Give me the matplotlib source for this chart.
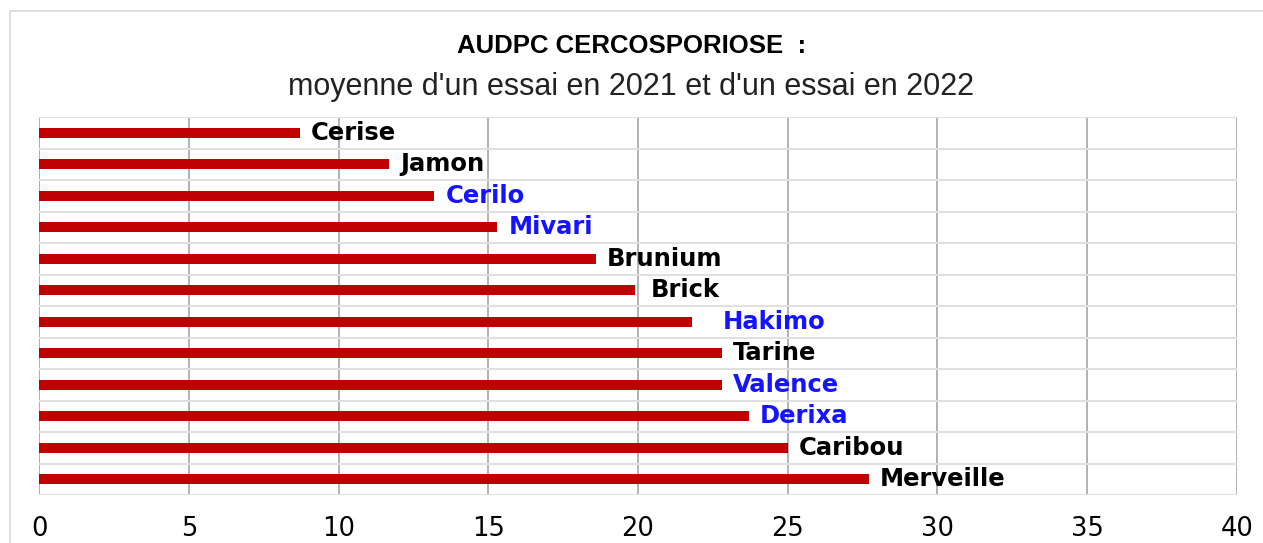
import matplotlib.pyplot as plt
from matplotlib.patches import Rectangle

# AUDPC values per variety (top to bottom)
varieties = ['Cerise', 'Jamon', 'Cerilo', 'Mivari', 'Brunium', 'Brick',
             'Hakimo', 'Tarine', 'Valence', 'Derixa', 'Caribou', 'Merveille']
audpc = [8.7, 11.7, 13.2, 15.3, 18.6, 19.9, 21.8, 22.8, 22.8, 23.7, 25.0, 27.7]
# blue label = highlighted varieties
highlighted = ['Cerilo', 'Mivari', 'Hakimo', 'Valence', 'Derixa']
x_ticks = [0, 5, 10, 15, 20, 25, 30, 35, 40]

# extra gap for some labels (points), as placed in the original
label_gap = {'Hakimo': 22, 'Brick': 11}

plt.rcParams['font.family'] = ['DejaVu Sans']

fig = plt.figure(figsize=(12.63, 5.43), dpi=100)
ax = fig.add_axes([0.0309, 0.0884, 0.9485, 0.6961])

# light frame around the chart area
fig.patches.append(Rectangle((0.008, -0.01), 1.0, 0.99, transform=fig.transFigure,
                             fill=False, edgecolor='#d9d9d9', linewidth=1.2))

ypos = list(range(len(varieties)))
ax.barh(ypos, audpc, height=0.32, color='#C00000', zorder=3)

for y, name, val in zip(ypos, varieties, audpc):
    col = '#1414FF' if name in highlighted else 'black'
    ax.annotate(name, (val, y), xytext=(label_gap.get(name, 8), 0),
                textcoords='offset points', va='center', ha='left',
                fontsize=17.5, fontweight='bold', color=col, zorder=4,
                family='DejaVu Sans')

ax.set_xlim(0, 40)
ax.set_ylim(len(varieties) - 0.5, -0.5)
ax.set_xticks(x_ticks)
ax.set_yticks([])
ax.set_yticks([i + 0.5 for i in range(-1, len(varieties))], minor=True)
ax.tick_params(axis='x', length=0, labelsize=18.5, pad=15)
ax.tick_params(axis='y', which='both', length=0)
ax.grid(axis='x', color='#a6a6a6', linewidth=1.2, zorder=1)
ax.grid(axis='y', which='minor', color='#e0e0e0', linewidth=1.5, zorder=1)
for s in ax.spines.values():
    s.set_visible(False)
ax.axvline(0, color='#e0e0e0', linewidth=1.5, zorder=1)

fig.text(0.5, 0.915, 'AUDPC CERCOSPORIOSE  :', ha='center', va='center',
         fontsize=18.5, fontweight='bold', family='Liberation Sans')
fig.text(0.5, 0.84, "moyenne d'un essai en 2021 et d'un essai en 2022", ha='center',
         va='center', fontsize=22, family='Liberation Sans', color='#222222')

fig.savefig('out.png', dpi=100)
